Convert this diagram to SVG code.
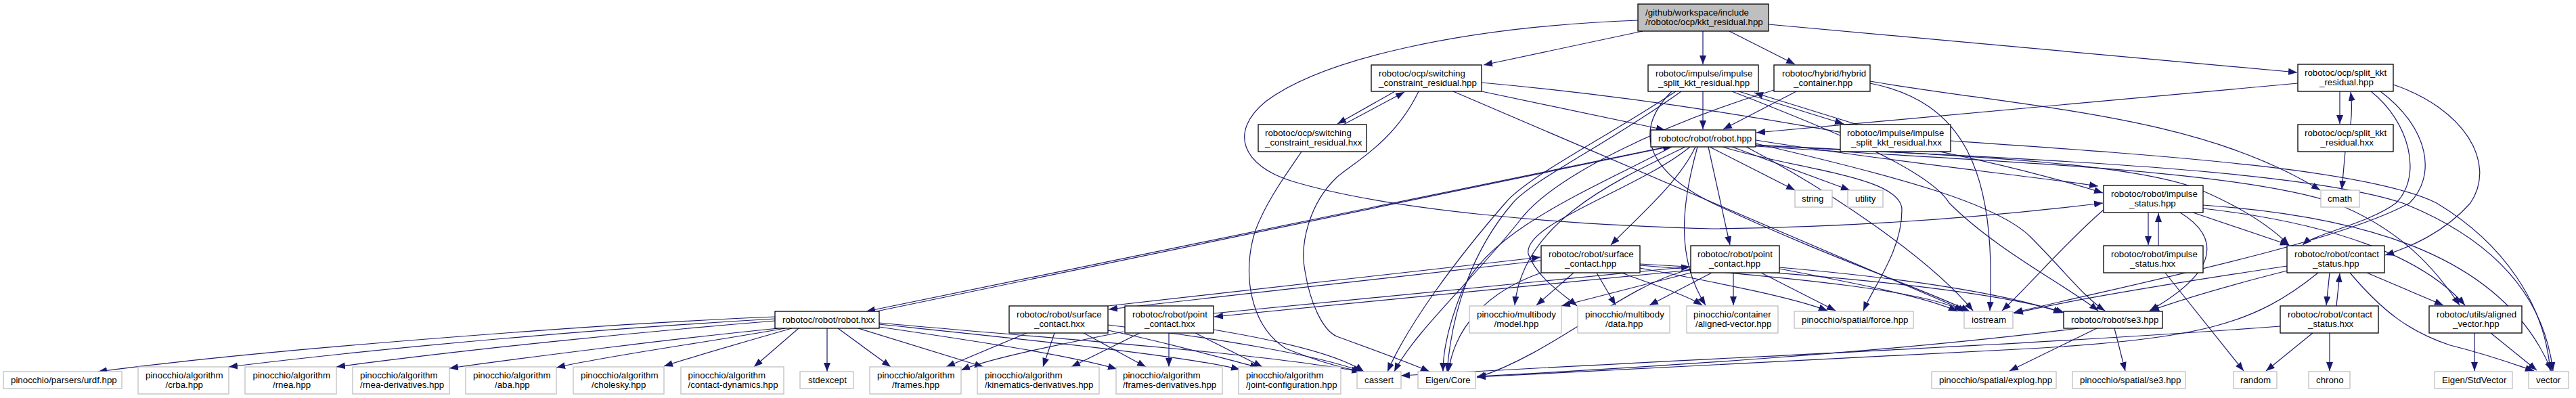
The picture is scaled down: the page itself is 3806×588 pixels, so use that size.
<svg xmlns="http://www.w3.org/2000/svg" width="3806" height="588" viewBox="0 0 3806 588">
<defs>
<marker id="a" markerUnits="userSpaceOnUse" markerWidth="14" markerHeight="11" refX="13" refY="5.5" orient="auto"><path d="M0,0.5 L13,5.5 L0,10.5 z" fill="#191970"/></marker>
<style>
.n rect{fill:#fff;stroke:#000;stroke-width:1.3}
.x rect{fill:#fff;stroke:#bfbfbf;stroke-width:1.3}
.r rect{fill:#bfbfbf;stroke:#000;stroke-width:1.3}
text{font-family:"Liberation Sans",Arial,sans-serif;font-size:13.3px;fill:#000}
#edges path{fill:none;stroke:#191970;stroke-width:1.2;marker-end:url(#a)}
</style>
</defs>
<rect width="3806" height="588" fill="#fff"/>
<g id="edges">
<path d="M2427,46 L2192,96"/>
<path d="M2516,46 L2516,95"/>
<path d="M2555,46 L2652,95"/>
<path d="M2613,36 L3394,107"/>
<path d="M2420,30 C2150,40 1950,90 1870,150 C1815,195 1835,245 1910,268 C2050,310 2300,332 2530,338 C2800,335 3000,313 3107,300"/>
<path d="M2061,135 L1976,183"/>
<path d="M1985,184 L2075,136"/>
<path d="M2189,135 L2460,192"/>
<path d="M2096,135 C2060,210 2000,240 1975,262 C1935,300 1920,360 1928,400 C1936,450 1955,488 1975,497 C2030,517 2085,537 2112,549"/>
<path d="M2147,135 L2906,460"/>
<path d="M2189,122 C2500,150 2900,220 3107,285"/>
<path d="M1923,224 C1895,265 1870,300 1855,340 C1835,400 1845,480 1900,515 C1950,535 1990,545 2012,549"/>
<path d="M2569,135 L2724,183"/>
<path d="M2744,184 L2592,137"/>
<path d="M2516,135 L2516,191"/>
<path d="M2484,135 C2380,210 2265,265 2235,300 C2175,370 2145,460 2138,549"/>
<path d="M2476,135 C2370,205 2255,262 2224,300 C2150,385 2080,480 2050,549"/>
<path d="M2470,135 C2420,185 2420,245 2530,300 C2700,380 2850,430 2910,460"/>
<path d="M2559,135 C2700,190 2850,250 2880,300 C2950,370 3050,420 3100,459"/>
<path d="M2654,135 L2546,191"/>
<path d="M2763,123 C2900,150 2950,250 2940,459"/>
<path d="M2763,120 C3000,160 3250,170 3428,281"/>
<path d="M2621,133 C2450,185 2300,260 2250,320 C2180,410 2090,490 2060,549"/>
<path d="M2882,208 C3200,230 3500,250 3600,300 C3700,360 3760,450 3768,548"/>
<path d="M3395,123 L2595,196"/>
<path d="M3457,135 L3457,183"/>
<path d="M3473,184 C3475,165 3475,150 3473,136"/>
<path d="M3465,224 L3460,280"/>
<path d="M3503,135 C3560,180 3580,260 3540,300 C3500,330 3420,345 3402,362"/>
<path d="M3517,135 C3590,190 3600,260 3560,300 C3450,360 3150,420 2975,462"/>
<path d="M3536,125 C3640,160 3690,240 3650,300 C3610,345 3560,365 3524,377"/>
<path d="M2462,217 L1280,460"/>
<path d="M1290,461 L2470,216"/>
<path d="M2526,217 L2652,281"/>
<path d="M2559,217 L2733,281"/>
<path d="M2505,217 C2480,270 2420,320 2380,362"/>
<path d="M2524,217 L2556,362"/>
<path d="M2490,217 C2380,270 2250,330 2238,451"/>
<path d="M2497,217 C2420,280 2250,330 2258,375 C2270,410 2310,435 2330,452"/>
<path d="M2508,217 C2485,300 2475,380 2520,451"/>
<path d="M2545,217 C2650,250 2810,260 2810,310 C2810,370 2770,420 2753,459"/>
<path d="M2580,217 C2700,280 2850,380 2915,459"/>
<path d="M2470,217 C2350,280 2200,340 2160,430 C2140,480 2132,520 2132,549"/>
<path d="M2594,212 C2800,260 2950,300 3000,350 C3050,400 3080,440 3110,459"/>
<path d="M2594,207 C2800,240 3000,260 3100,275"/>
<path d="M2594,214 C2900,230 3150,240 3250,280 C3320,310 3360,340 3382,362"/>
<path d="M2594,216 C2950,240 3300,250 3450,300 C3550,340 3600,400 3634,451"/>
<path d="M2594,215 C3000,235 3400,250 3550,300 C3700,360 3760,450 3772,548"/>
<path d="M1145,468 C900,478 400,515 145,549"/>
<path d="M1145,471 C900,485 600,510 338,542"/>
<path d="M1145,474 C950,490 700,515 497,542"/>
<path d="M1150,485 C1000,500 800,525 664,544"/>
<path d="M1160,485 C1050,505 900,525 822,543"/>
<path d="M1170,485 C1100,505 1030,525 981,541"/>
<path d="M1180,485 L1114,542"/>
<path d="M1222,485 L1222,549"/>
<path d="M1238,485 L1316,542"/>
<path d="M1268,485 L1453,542"/>
<path d="M1299,483 C1450,505 1580,525 1650,545"/>
<path d="M1299,479 C1500,500 1750,525 1832,546"/>
<path d="M1299,477 C1550,500 1850,520 2010,549"/>
<path d="M2277,385 L1638,457"/>
<path d="M1637,452 L2276,380"/>
<path d="M2325,403 L2270,451"/>
<path d="M2359,403 L2387,451"/>
<path d="M2396,403 C2440,420 2490,435 2515,451"/>
<path d="M2423,396 C2550,420 2650,440 2700,459"/>
<path d="M2423,392 C2650,410 2850,430 2900,460"/>
<path d="M2423,390 C2700,405 2950,430 3050,462"/>
<path d="M2277,403 C2200,430 2150,480 2140,549"/>
<path d="M1517,492 L1398,542"/>
<path d="M1558,492 L1541,542"/>
<path d="M1601,492 L1693,542"/>
<path d="M1637,488 C1720,505 1790,525 1860,543"/>
<path d="M1637,480 C1800,500 1950,525 2012,549"/>
<path d="M1793,463 L2497,394"/>
<path d="M2498,399 L1794,468"/>
<path d="M1660,490 C1560,510 1460,530 1420,547"/>
<path d="M1684,492 L1583,542"/>
<path d="M1727,492 L1727,542"/>
<path d="M1766,492 L1865,542"/>
<path d="M1793,487 C1900,505 1980,525 2015,549"/>
<path d="M2498,403 L2307,452"/>
<path d="M2529,403 L2437,451"/>
<path d="M2561,403 L2561,451"/>
<path d="M2602,403 L2712,459"/>
<path d="M2629,397 C2750,420 2850,440 2892,460"/>
<path d="M2629,395 C2800,410 2950,430 3047,462"/>
<path d="M2498,398 C2400,420 2300,520 2182,558"/>
<path d="M3174,314 L3174,362"/>
<path d="M3189,363 L3189,315"/>
<path d="M3240,314 L3382,362"/>
<path d="M3255,308 C3450,330 3580,380 3642,451"/>
<path d="M3255,303 C3500,320 3700,380 3770,548"/>
<path d="M3108,310 C3050,360 3000,420 2958,459"/>
<path d="M3221,314 C3280,350 3280,400 3176,459"/>
<path d="M3199,403 L3315,548"/>
<path d="M3442,403 L3437,451"/>
<path d="M3452,452 L3457,404"/>
<path d="M3497,403 L3610,451"/>
<path d="M3472,403 C3520,460 3560,490 3620,510 C3680,525 3720,540 3744,548"/>
<path d="M3379,400 C3300,420 3230,440 3177,459"/>
<path d="M3379,393 C3200,420 3050,445 2976,463"/>
<path d="M3425,403 C3330,480 3250,500 3000,515 C2600,535 2300,550 2182,557"/>
<path d="M3417,492 L3348,548"/>
<path d="M3442,492 L3442,548"/>
<path d="M3369,482 C3000,510 2500,530 2070,555"/>
<path d="M3656,492 L3656,548"/>
<path d="M3680,492 L3748,547"/>
<path d="M3098,485 L2969,548"/>
<path d="M3124,485 L3140,548"/>
<path d="M3071,485 C2800,520 2400,545 2182,556"/>
</g>
<g id="root" class="r"><rect x="2420" y="6" width="193" height="40"/><text x="2431" y="22.5">/github/workspace/include</text><text x="2431" y="36.5">/robotoc/ocp/kkt_residual.hpp</text></g>
<g id="swh" class="n"><rect x="2026" y="96" width="163" height="39"/><text x="2037" y="112.5">robotoc/ocp/switching</text><text x="2037" y="126.5">_constraint_residual.hpp</text></g>
<g id="swx" class="n"><rect x="1859" y="184" width="160" height="40"/><text x="1869" y="200.5">robotoc/ocp/switching</text><text x="1869" y="214.5">_constraint_residual.hxx</text></g>
<g id="ish" class="n"><rect x="2435" y="96" width="163" height="39"/><text x="2446" y="112.5">robotoc/impulse/impulse</text><text x="2450" y="126.5">_split_kkt_residual.hpp</text></g>
<g id="hy" class="n"><rect x="2621" y="96" width="142" height="39"/><text x="2633" y="112.5">robotoc/hybrid/hybrid</text><text x="2650" y="126.5">_container.hpp</text></g>
<g id="skh" class="n"><rect x="3395" y="95" width="141" height="40"/><text x="3405" y="111.5">robotoc/ocp/split_kkt</text><text x="3427" y="125.5">_residual.hpp</text></g>
<g id="skx" class="n"><rect x="3395" y="184" width="141" height="40"/><text x="3405" y="200.5">robotoc/ocp/split_kkt</text><text x="3428.6" y="214.5">_residual.hxx</text></g>
<g id="rb" class="n"><rect x="2439" y="192" width="155" height="25"/><text x="2450" y="209">robotoc/robot/robot.hpp</text></g>
<g id="isx" class="n"><rect x="2719" y="184" width="163" height="40"/><text x="2729" y="200.5">robotoc/impulse/impulse</text><text x="2735" y="214.5">_split_kkt_residual.hxx</text></g>
<g id="string" class="x"><rect x="2652" y="281" width="55" height="25"/><text x="2662" y="298">string</text></g>
<g id="utility" class="x"><rect x="2730" y="281" width="52" height="25"/><text x="2741" y="298">utility</text></g>
<g id="cmath" class="x"><rect x="3429" y="281" width="57" height="25"/><text x="3439" y="298">cmath</text></g>
<g id="isth" class="n"><rect x="3108" y="274" width="147" height="40"/><text x="3119" y="290.5">robotoc/robot/impulse</text><text x="3146" y="304.5">_status.hpp</text></g>
<g id="istx" class="n"><rect x="3108" y="363" width="147" height="40"/><text x="3119" y="379.5">robotoc/robot/impulse</text><text x="3147" y="393.5">_status.hxx</text></g>
<g id="csh" class="n"><rect x="3379" y="363" width="144" height="40"/><text x="3390" y="379.5">robotoc/robot/contact</text><text x="3417" y="393.5">_status.hpp</text></g>
<g id="csx" class="n"><rect x="3369" y="452" width="145" height="40"/><text x="3380" y="468.5">robotoc/robot/contact</text><text x="3410" y="482.5">_status.hxx</text></g>
<g id="av" class="n"><rect x="3589" y="452" width="137" height="40"/><text x="3600" y="468.5">robotoc/utils/aligned</text><text x="3624" y="482.5">_vector.hpp</text></g>
<g id="random" class="x"><rect x="3300" y="549" width="64" height="25"/><text x="3310" y="566">random</text></g>
<g id="chrono" class="x"><rect x="3411" y="549" width="61" height="25"/><text x="3422" y="566">chrono</text></g>
<g id="stdvec" class="x"><rect x="3597" y="549" width="115" height="25"/><text x="3608" y="566">Eigen/StdVector</text></g>
<g id="vector" class="x"><rect x="3736" y="549" width="59" height="25"/><text x="3747" y="566">vector</text></g>
<g id="se3" class="n"><rect x="3049" y="460" width="146" height="25"/><text x="3060" y="477">robotoc/robot/se3.hpp</text></g>
<g id="explog" class="x"><rect x="2854" y="549" width="184" height="25"/><text x="2865" y="566">pinocchio/spatial/explog.hpp</text></g>
<g id="pse3" class="x"><rect x="3062" y="549" width="167" height="25"/><text x="3073" y="566">pinocchio/spatial/se3.hpp</text></g>
<g id="iostream" class="x"><rect x="2902" y="460" width="72" height="25"/><text x="2913" y="477">iostream</text></g>
<g id="force" class="x"><rect x="2651" y="460" width="176" height="25"/><text x="2662" y="477">pinocchio/spatial/force.hpp</text></g>
<g id="pch" class="n"><rect x="2498" y="363" width="131" height="40"/><text x="2508" y="379.5">robotoc/robot/point</text><text x="2525" y="393.5">_contact.hpp</text></g>
<g id="pav" class="x"><rect x="2492" y="452" width="135" height="40"/><text x="2502" y="468.5">pinocchio/container</text><text x="2505" y="482.5">/aligned-vector.hpp</text></g>
<g id="sch" class="n"><rect x="2277" y="363" width="146" height="40"/><text x="2288" y="379.5">robotoc/robot/surface</text><text x="2312" y="393.5">_contact.hpp</text></g>
<g id="model" class="x"><rect x="2171" y="452" width="136" height="40"/><text x="2182" y="468.5">pinocchio/multibody</text><text x="2207.5" y="482.5">/model.hpp</text></g>
<g id="data" class="x"><rect x="2331" y="452" width="136" height="40"/><text x="2342" y="468.5">pinocchio/multibody</text><text x="2372" y="482.5">/data.hpp</text></g>
<g id="cassert" class="x"><rect x="2005" y="549" width="65" height="25"/><text x="2016" y="566">cassert</text></g>
<g id="eigen" class="x"><rect x="2095" y="549" width="85" height="25"/><text x="2106" y="566">Eigen/Core</text></g>
<g id="jc" class="x"><rect x="1830" y="542" width="151" height="40"/><text x="1841" y="558.5">pinocchio/algorithm</text><text x="1841" y="572.5">/joint-configuration.hpp</text></g>
<g id="fd" class="x"><rect x="1649" y="542" width="157" height="40"/><text x="1659" y="558.5">pinocchio/algorithm</text><text x="1659" y="572.5">/frames-derivatives.hpp</text></g>
<g id="kd" class="x"><rect x="1444" y="542" width="180" height="40"/><text x="1455" y="558.5">pinocchio/algorithm</text><text x="1455" y="572.5">/kinematics-derivatives.hpp</text></g>
<g id="frames" class="x"><rect x="1285" y="542" width="135" height="40"/><text x="1296" y="558.5">pinocchio/algorithm</text><text x="1318" y="572.5">/frames.hpp</text></g>
<g id="scx" class="n"><rect x="1491" y="452" width="146" height="40"/><text x="1502" y="468.5">robotoc/robot/surface</text><text x="1528" y="482.5">_contact.hxx</text></g>
<g id="pcx" class="n"><rect x="1662" y="452" width="131" height="40"/><text x="1673" y="468.5">robotoc/robot/point</text><text x="1691" y="482.5">_contact.hxx</text></g>
<g id="rbx" class="n"><rect x="1145" y="460" width="154" height="25"/><text x="1156" y="477">robotoc/robot/robot.hxx</text></g>
<g id="stdexcept" class="x"><rect x="1182" y="549" width="79" height="25"/><text x="1194" y="566">stdexcept</text></g>
<g id="cd" class="x"><rect x="1006" y="542" width="152" height="40"/><text x="1016.5" y="558.5">pinocchio/algorithm</text><text x="1016.5" y="572.5">/contact-dynamics.hpp</text></g>
<g id="chol" class="x"><rect x="847" y="542" width="134" height="40"/><text x="858" y="558.5">pinocchio/algorithm</text><text x="874" y="572.5">/cholesky.hpp</text></g>
<g id="aba" class="x"><rect x="688" y="542" width="134" height="40"/><text x="699" y="558.5">pinocchio/algorithm</text><text x="731" y="572.5">/aba.hpp</text></g>
<g id="rd" class="x"><rect x="521" y="542" width="143" height="40"/><text x="532" y="558.5">pinocchio/algorithm</text><text x="532" y="572.5">/rnea-derivatives.hpp</text></g>
<g id="rnea" class="x"><rect x="362" y="542" width="135" height="40"/><text x="373.5" y="558.5">pinocchio/algorithm</text><text x="403" y="572.5">/rnea.hpp</text></g>
<g id="crba" class="x"><rect x="204" y="542" width="134" height="40"/><text x="215" y="558.5">pinocchio/algorithm</text><text x="244.5" y="572.5">/crba.hpp</text></g>
<g id="urdf" class="x"><rect x="5" y="549" width="175" height="25"/><text x="16" y="566">pinocchio/parsers/urdf.hpp</text></g>
</svg>
